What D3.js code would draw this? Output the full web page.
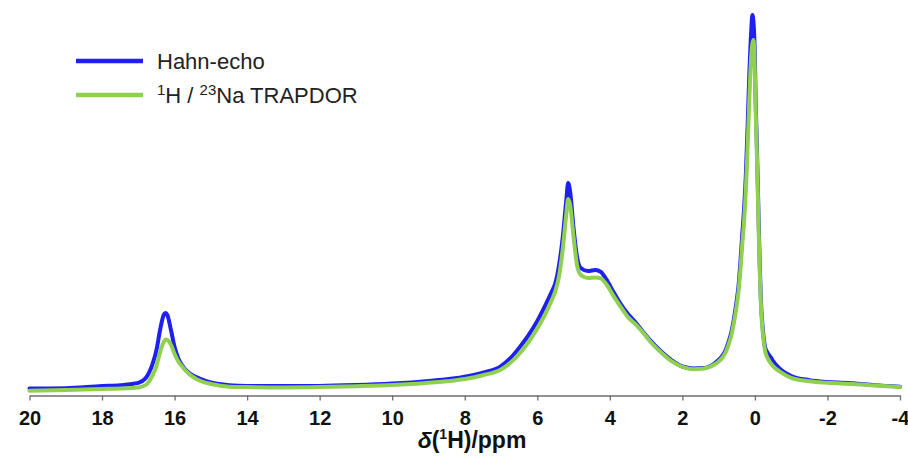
<!DOCTYPE html>
<html>
<head>
<meta charset="utf-8">
<script src="https://cdn.jsdelivr.net/npm/d3@7"></script>
<style>
  html, body { margin: 0; padding: 0; background: #fff; }
  svg { display: block; font-family: "Liberation Sans", Arial, sans-serif; }
</style>
</head>
<body>
<svg id="chart" width="908" height="463"></svg>
<script>
// Chemical shift grid (ppm), shared by both spectra
const ppm = [20, 19, 18, 17.5, 17, 16.8, 16.6, 16.5, 16.4, 16.3, 16.25, 16.2, 16.1, 16, 15.9, 15.8, 15.6, 15.4, 15.2, 15,
  14.5, 14, 13, 12, 11, 10, 9, 8, 7.5, 7, 6.75, 6.5, 6.25, 6, 5.8, 5.6, 5.5, 5.4, 5.3, 5.2, 5.15, 5.1, 5, 4.9, 4.8,
  4.6, 4.4, 4.25, 4.1, 3.9, 3.7, 3.5, 3.3, 3.1, 2.9, 2.6, 2.3, 2, 1.7, 1.4, 1.1, 1, 0.9, 0.8, 0.74, 0.65, 0.58, 0.5,
  0.45, 0.4, 0.35, 0.3, 0.25, 0.2, 0.15, 0.1, 0.07, 0.04, 0, -0.02, -0.05, -0.09, -0.13, -0.165, -0.22, -0.28, -0.35,
  -0.45, -0.5, -0.7, -1, -1.5, -2, -2.7, -3.3, -4];

// Hahn-echo spectrum, relative intensity
const hahnEcho = [1.7, 1.8, 2.4, 2.6, 3.2, 4.4, 8.4, 11.8, 17.1, 21.1, 21.6, 21.1, 17.1, 12.6, 9.7, 7.9, 5.8, 4.7, 3.9, 3.3,
  2.6, 2.4, 2.4, 2.4, 2.6, 3.0, 3.7, 4.8, 5.9, 7.6, 9.6, 12.4, 15.6, 19.5, 23.2, 27.2, 29.5, 34.2, 41.3, 51.3, 55.8, 53.9, 43.9, 36.1, 33.4,
  32.6, 32.9, 32.4, 30.5, 27.1, 23.9, 21.3, 19.2, 16.8, 14.5, 11.6, 9.2, 7.5, 7.0, 7.1, 8.4, 9.2, 10.3, 12.0, 13.6, 16.5, 20.0, 25.0,
  28.9, 35.0, 42.1, 48.7, 57.9, 71.1, 85.5, 96.1, 100, 98.2, 88.2, 77.6, 67.1, 51.3, 35.5, 25.0, 17.1, 12.6, 11.1,
  9.7, 8.9, 6.8, 5.0, 3.9, 3.4, 3.1, 2.6, 2.2];

// 1H/23Na TRAPDOR spectrum, relative intensity
const trapdor = [1.1, 1.3, 1.6, 1.7, 2.0, 2.6, 5.3, 7.6, 11.3, 13.9, 14.6, 14.5, 13.2, 10.8, 8.9, 7.6, 5.5, 4.2, 3.4, 2.9,
  2.2, 2.1, 2.0, 2.1, 2.3, 2.6, 3.2, 4.2, 5.2, 6.7, 8.4, 10.8, 13.8, 17.5, 20.9, 25.0, 27.4, 31.3, 38.2, 47.6, 51.6, 50.3, 41.6, 33.9, 31.6,
  30.8, 30.9, 30.7, 29.2, 26.1, 23.2, 20.5, 18.7, 16.6, 14.2, 11.3, 8.9, 7.4, 6.8, 7.0, 8.1, 8.8, 9.8, 11.4, 12.9, 15.7, 19.0, 23.7,
  27.4, 32.9, 39.5, 45.5, 53.9, 65.8, 78.9, 89.5, 92.4, 93.4, 84.2, 75.0, 64.5, 48.7, 33.4, 23.7, 16.1, 11.6, 9.7,
  8.2, 7.6, 6.1, 4.5, 3.6, 3.2, 2.9, 2.5, 2.1];

const seriesNames = ["Hahn-echo", "TRAPDOR"];
const seriesColors = ["#1f1ff2", "#8fd14f"];
const xTicks = [20, 18, 16, 14, 12, 10, 8, 6, 4, 2, 0, -2, -4];

const svg = d3.select("#chart");

const x = d3.scaleLinear().domain([20, -4]).range([29.5, 900]);
const y = d3.scaleLinear().domain([0, 100]).range([395, 15]);

const series = [hahnEcho, trapdor].map((vals, i) => ({
  name: seriesNames[i],
  color: seriesColors[i],
  points: ppm.map((p, j) => [p, vals[j]])
}));

const line = d3.line()
  .x(d => x(d[0]))
  .y(d => y(d[1]))
  .curve(d3.curveMonotoneX);

// spectra (Hahn-echo underneath, TRAPDOR on top)
svg.append("g")
  .selectAll("path")
  .data(series)
  .join("path")
  .attr("d", d => line(d.points))
  .attr("fill", "none")
  .attr("stroke", d => d.color)
  .attr("stroke-width", 4)
  .attr("stroke-linejoin", "round")
  .attr("stroke-linecap", "round");

// x axis
const axis = svg.append("g")
  .attr("transform", "translate(0,395.5)")
  .call(d3.axisBottom(x)
    .tickValues(xTicks)
    .tickFormat(d => String(d))
    .tickSize(5)
    .tickSizeOuter(0)
    .tickPadding(10));
axis.select(".domain").attr("stroke", "#6e6e6e").attr("stroke-width", 1.3);
axis.selectAll(".tick line").attr("stroke", "#6e6e6e").attr("stroke-width", 1.3);
axis.selectAll(".tick text")
  .attr("fill", "#111")
  .style("font-size", "20px")
  .style("font-weight", "bold")
  .style("font-family", "'Liberation Sans', Arial, sans-serif");

// axis title: δ(1H)/ppm
const title = svg.append("text")
  .attr("x", 472)
  .attr("y", 448)
  .attr("text-anchor", "middle")
  .attr("fill", "#111")
  .style("font-size", "23px")
  .style("font-weight", "bold");
title.append("tspan").style("font-style", "italic").text("δ");
title.append("tspan").text("(");
title.append("tspan").attr("dy", -9).style("font-size", "14px").text("1");
title.append("tspan").attr("dy", 9).text("H)/ppm");

// legend
const legend = svg.append("g");
const legendRows = legend.selectAll("g")
  .data(series)
  .join("g")
  .attr("transform", (d, i) => `translate(0,${61 + i * 34})`);
legendRows.append("line")
  .attr("x1", 76).attr("x2", 143)
  .attr("y1", 0).attr("y2", 0)
  .attr("stroke", d => d.color)
  .attr("stroke-width", 4.5);

const legendText = legendRows.append("text")
  .attr("x", 157)
  .attr("y", 8)
  .attr("fill", "#222")
  .style("font-size", "22px");
legendText.filter((d, i) => i === 0).text(d => d.name);
const tr = legendText.filter((d, i) => i === 1);
tr.append("tspan").attr("dy", -8).style("font-size", "15px").text("1");
tr.append("tspan").attr("dy", 8).text("H / ");
tr.append("tspan").attr("dy", -8).style("font-size", "15px").text("23");
tr.append("tspan").attr("dy", 8).text("Na TRAPDOR");
</script>
</body>
</html>
